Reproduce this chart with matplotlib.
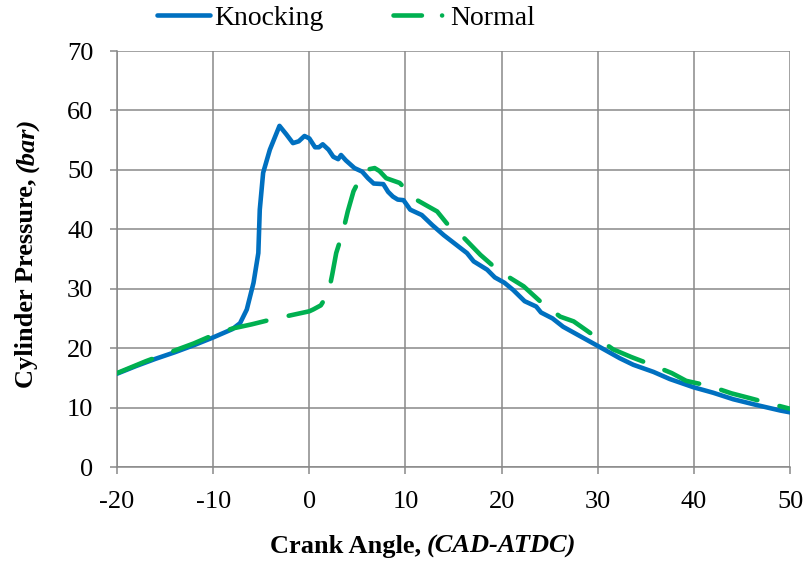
import matplotlib
matplotlib.use("Agg")
import matplotlib.pyplot as plt
from matplotlib.lines import Line2D

# ── data ─────────────────────────────────────────────────────────────────
knock_x = [-20, -18, -16, -14, -12, -10, -8, -7.2, -6.5, -5.8, -5.3, -5.15, -4.8,
           -4.1, -3.4, -3.1, -2.4, -1.7, -1.1, -0.5, 0, 0.6, 1.0, 1.4, 2.0, 2.5,
           3.0, 3.3, 3.8, 4.7, 5.5, 6.1, 6.7, 7.7, 8.2, 8.7, 9.2, 9.8, 10.5, 11.7,
           12.8, 14, 15.2, 16.4, 17.1, 18.5, 19.3, 20.3, 21.2, 22.4, 23.6, 24.1,
           25.3, 26.4, 28.3, 30.2, 32.3, 33.7, 35.8, 37.5, 40, 42, 44.1, 46.6, 49, 50]
knock_y = [15.7, 17, 18.2, 19.3, 20.5, 21.8, 23.2, 24.2, 26.5, 31, 36, 43.3, 49.5,
           53.4, 56.2, 57.4, 56, 54.5, 54.8, 55.7, 55.3, 53.8, 53.8, 54.3, 53.4, 52.2,
           51.8, 52.5, 51.6, 50.3, 49.7, 48.6, 47.7, 47.6, 46.3, 45.5, 45, 44.9, 43.3, 42.4,
           40.7, 39, 37.5, 36, 34.6, 33.2, 31.9, 31, 29.8, 27.9, 27, 26,
           25, 23.6, 21.9, 20.2, 18.3, 17.2, 16, 14.8, 13.4, 12.5, 11.4, 10.4, 9.5, 9.2]

normal_x = [-20, -17, -14, -12, -10, -8, -6, -4, -2, 0, 0.4, 1.2, 2.0, 2.4, 2.8, 3.5,
            4.0, 4.6, 5.2, 5.7, 6.2, 6.8, 7.3, 8, 9.4, 11, 12.2, 13.3, 14.3, 16, 17.8,
            19, 20.9, 22.3, 24.2, 26.1, 27.5, 29.7, 31.6, 33.5, 35.6, 37.7, 39.2, 41.7,
            43.9, 45.8, 48.1, 50]
normal_y = [15.8, 17.8, 19.6, 20.8, 22.2, 23.3, 24, 24.8, 25.5, 26.2, 26.5, 27.2, 29.3,
            32.5, 36, 39.6, 43, 46.4, 48.3, 49.5, 50.1, 50.3, 49.8, 48.6, 47.8, 45.1, 44,
            43, 41, 38.7, 35.7, 34, 31.8, 30.4, 27.6, 25.3, 24.5, 22, 19.8, 18.5, 17.2,
            15.8, 14.5, 13.6, 12.4, 11.6, 10.6, 9.8]

x_ticks = [-20, -10, 0, 10, 20, 30, 40, 50]
y_ticks = [0, 10, 20, 30, 40, 50, 60, 70]

BLUE = '#0070C0'
GREEN = '#00B050'
GRAY = '#898989'
LW = 3.3

plt.rcParams['font.family'] = ['Liberation Serif', 'DejaVu Serif']
plt.rcParams['axes.unicode_minus'] = False

W, H = 805, 568
fig = plt.figure(figsize=(W / 100, H / 100), dpi=100)
ax = fig.add_axes([117 / W, 1 - 467 / H, (790 - 117) / W, (467 - 51) / H])

ax.plot(knock_x, knock_y, color=BLUE, lw=LW, solid_capstyle='round',
        solid_joinstyle='round', zorder=3)
ax.plot(normal_x, normal_y, color=GREEN, lw=LW, ls=(0, (8.2, 5.0)),
        dash_capstyle='round', zorder=4)

ax.set_xlim(-20, 50)
ax.set_ylim(0, 70)
ax.set_xticks(x_ticks)
ax.set_yticks(y_ticks)
ax.grid(True, color=GRAY, lw=1.1)
ax.set_axisbelow(True)
for s in ax.spines.values():
    s.set_visible(False)
for side in ('left', 'bottom'):
    ax.spines[side].set_visible(True)
    ax.spines[side].set_color(GRAY)
    ax.spines[side].set_linewidth(1.1)
ax.tick_params(axis='both', direction='out', length=5, width=1.1, color=GRAY,
               labelsize=19, labelcolor='black', pad=12)

# legend — the dashed handle ends with a dot, as in the reference
h_knock = Line2D([], [], color=BLUE, lw=LW, solid_capstyle='round')
h_norm = Line2D([], [], color=GREEN, lw=LW, ls=(0, (6.2, 4.4, 0.01, 20)),
                dash_capstyle='round')
fig.legend([h_knock, h_norm], ['Knocking', 'Normal'], ncol=2, frameon=False,
           loc='center left', bbox_to_anchor=(157 / W, 1 - 18 / H),
           fontsize=20, handlelength=1.9, handletextpad=0.15,
           columnspacing=2.5, borderpad=0, borderaxespad=0)

# axis titles: bold text with a bold-italic unit part
r = fig.canvas.get_renderer()


def xlabel_two_part(cx, cy, a, b, size=19):
    t1 = fig.text(0, 0, a, fontsize=size, fontweight='bold', va='center', ha='left')
    t2 = fig.text(0, 0, b, fontsize=size, fontweight='bold', fontstyle='italic',
                  va='center', ha='left')
    w1 = t1.get_window_extent(r).width
    w2 = t2.get_window_extent(r).width
    gap = 6
    left = cx - (w1 + gap + w2) / 2
    t1.set_position((left / W, 1 - cy / H))
    t2.set_position(((left + w1 + gap) / W, 1 - cy / H))


def ylabel_two_part(cx, cy, a, b, size=19):
    t1 = fig.text(0, 0, a, fontsize=size, fontweight='bold', rotation=90,
                  ha='center', va='bottom')
    t2 = fig.text(0, 0, b, fontsize=size, fontweight='bold', fontstyle='italic',
                  rotation=90, ha='center', va='bottom')
    h1 = t1.get_window_extent(r).height
    h2 = t2.get_window_extent(r).height
    gap = 7
    bottom = cy + (h1 + gap + h2) / 2   # pixel row from top
    t1.set_position((cx / W, 1 - bottom / H))
    t2.set_position((cx / W, 1 - (bottom - h1 - gap) / H))


xlabel_two_part(423, 546, 'Crank Angle,', '(CAD-ATDC)')
ylabel_two_part(27, 253, 'Cylinder Pressure,', '(bar)')

fig.savefig('out.png', dpi=100)
